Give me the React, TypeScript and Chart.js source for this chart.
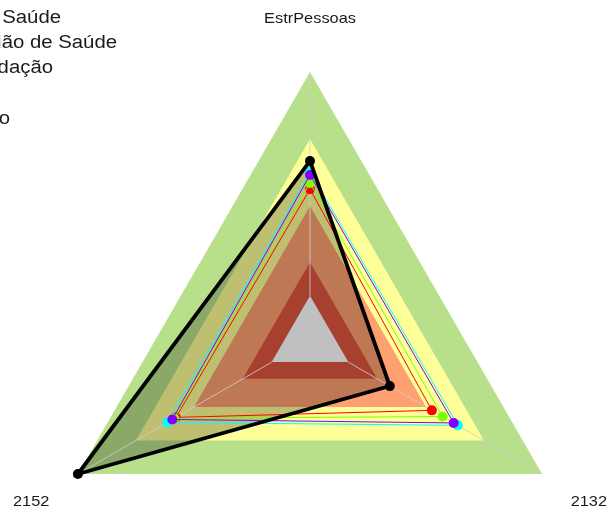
import React, { useEffect, useRef } from "react";
import { Chart, registerables } from "chart.js";

Chart.register(...registerables);

// ---- data ----
const categories = ["EstrPessoas", "2132", "2152"];
const legendLabels = ["Secretaria de Saúde", "Região de Saúde", "Consolidação", "Brasil", "Município"];
const seriesBlack = [66.8, 34.4, 100];
const seriesRed = [56.3, 52.5, 57.8];
const seriesGreen = [58.6, 57.1, 58.5];
const seriesPurple = [61.6, 61.9, 59.3];
const seriesCyan = [62.7, 63.7, 61.5];
const bandLevels = [16.5, 29, 50, 75, 100];
const bandColors = ["#C0C0C0", "#A84030", "#FFA070", "#FFFF99", "#B8E08A"];

const TEXT_STRETCH = 1.13;
const legendRightEdges = [61, 117, 53, -2, 10];
const legendBaselines = [23, 48, 73, 98, 124];

function band(i: number) {
  return {
    label: "band" + i,
    data: categories.map(() => bandLevels[i]),
    backgroundColor: bandColors[i],
    borderWidth: 0,
    pointRadius: 0,
    fill: "origin",
  };
}

function line(label: string, data: number[], color: string, width: number) {
  return {
    label,
    data,
    borderColor: color,
    backgroundColor: color,
    pointBackgroundColor: color,
    pointBorderColor: color,
    pointBorderWidth: 0,
    pointRadius: 5,
    borderWidth: width,
    fill: false,
  };
}

// angle lines drawn right after the innermost band (above bands, below series)
const angleLinePlugin = {
  id: "angleLinesMid",
  afterDatasetDraw(chart: any, args: any) {
    if (chart.data.datasets[args.index].label !== "band0") return;
    const ctx = chart.ctx;
    const scale = chart.scales.r;
    ctx.save();
    ctx.strokeStyle = "rgba(205,205,205,0.85)";
    ctx.lineWidth = 1;
    categories.forEach((_, i) => {
      const a = scale.getPointPosition(i, scale.getDistanceFromCenterForValue(bandLevels[0]));
      const p = scale.getPointPosition(i, scale.getDistanceFromCenterForValue(scale.max));
      ctx.beginPath();
      ctx.moveTo(a.x, a.y);
      ctx.lineTo(p.x, p.y);
      ctx.stroke();
    });
    ctx.restore();
  },
};

const textPlugin = {
  id: "customText",
  afterDraw(chart: any) {
    const ctx = chart.ctx;
    const scale = chart.scales.r;
    ctx.save();
    ctx.fillStyle = "#1a1a1a";
    ctx.textBaseline = "alphabetic";
    // point labels
    ctx.font = "14.5px 'Liberation Sans', Arial, sans-serif";
    ctx.textAlign = "center";
    categories.forEach((lab, i) => {
      const p = scale.getPointPosition(i, scale.drawingArea + 54);
      ctx.save();
      ctx.translate(p.x, p.y + 5);
      ctx.scale(TEXT_STRETCH, 1);
      ctx.fillText(lab, 0, 0);
      ctx.restore();
    });
    // legend (clipped on the left)
    ctx.font = "18px 'Liberation Sans', Arial, sans-serif";
    ctx.textAlign = "right";
    legendLabels.forEach((lab, i) => {
      ctx.save();
      ctx.translate(legendRightEdges[i], legendBaselines[i]);
      ctx.scale(TEXT_STRETCH, 1);
      ctx.fillText(lab, 0, 0);
      ctx.restore();
    });
    ctx.restore();
  },
};

export default function App() {
  const ref = useRef<HTMLCanvasElement>(null);
  useEffect(() => {
    if (!ref.current) return;
    const blackFill = {
      label: "blackFill",
      data: seriesBlack,
      backgroundColor: "rgba(0,0,0,0.25)",
      borderWidth: 0,
      pointRadius: 0,
      fill: "origin",
    };
    const chart = new Chart(ref.current, {
      type: "radar",
      data: {
        labels: categories,
        datasets: [
          line(legendLabels[4], seriesBlack, "#000000", 3.8),
          line(legendLabels[1], seriesPurple, "#8000FF", 1),
          line(legendLabels[2], seriesGreen, "#80FF00", 1),
          line(legendLabels[0], seriesRed, "#FF0000", 1),
          line(legendLabels[3], seriesCyan, "#00FFFF", 1),
          band(0),
          band(1),
          blackFill,
          band(2),
          band(3),
          band(4),
        ] as any,
      },
      options: {
        animation: false,
        responsive: false,
        devicePixelRatio: 1,
        layout: { padding: { left: 42, right: 31, top: 72, bottom: 12 } },
        plugins: { legend: { display: false }, tooltip: { enabled: false }, title: { display: false } },
        elements: { line: { tension: 0 } },
        scales: {
          r: {
            min: 0,
            max: 100,
            ticks: { display: false },
            grid: { display: false },
            angleLines: { display: false },
            pointLabels: { display: false },
          },
        },
      },
      plugins: [angleLinePlugin, textPlugin],
    });
    return () => chart.destroy();
  }, []);
  return (
    <div style={{ position: "fixed", left: 0, top: 0, width: 609, height: 514, overflow: "hidden", background: "#fff" }}>
      <canvas ref={ref} width={609} height={620} style={{ display: "block", width: 609, height: 620 }} />
    </div>
  );
}
